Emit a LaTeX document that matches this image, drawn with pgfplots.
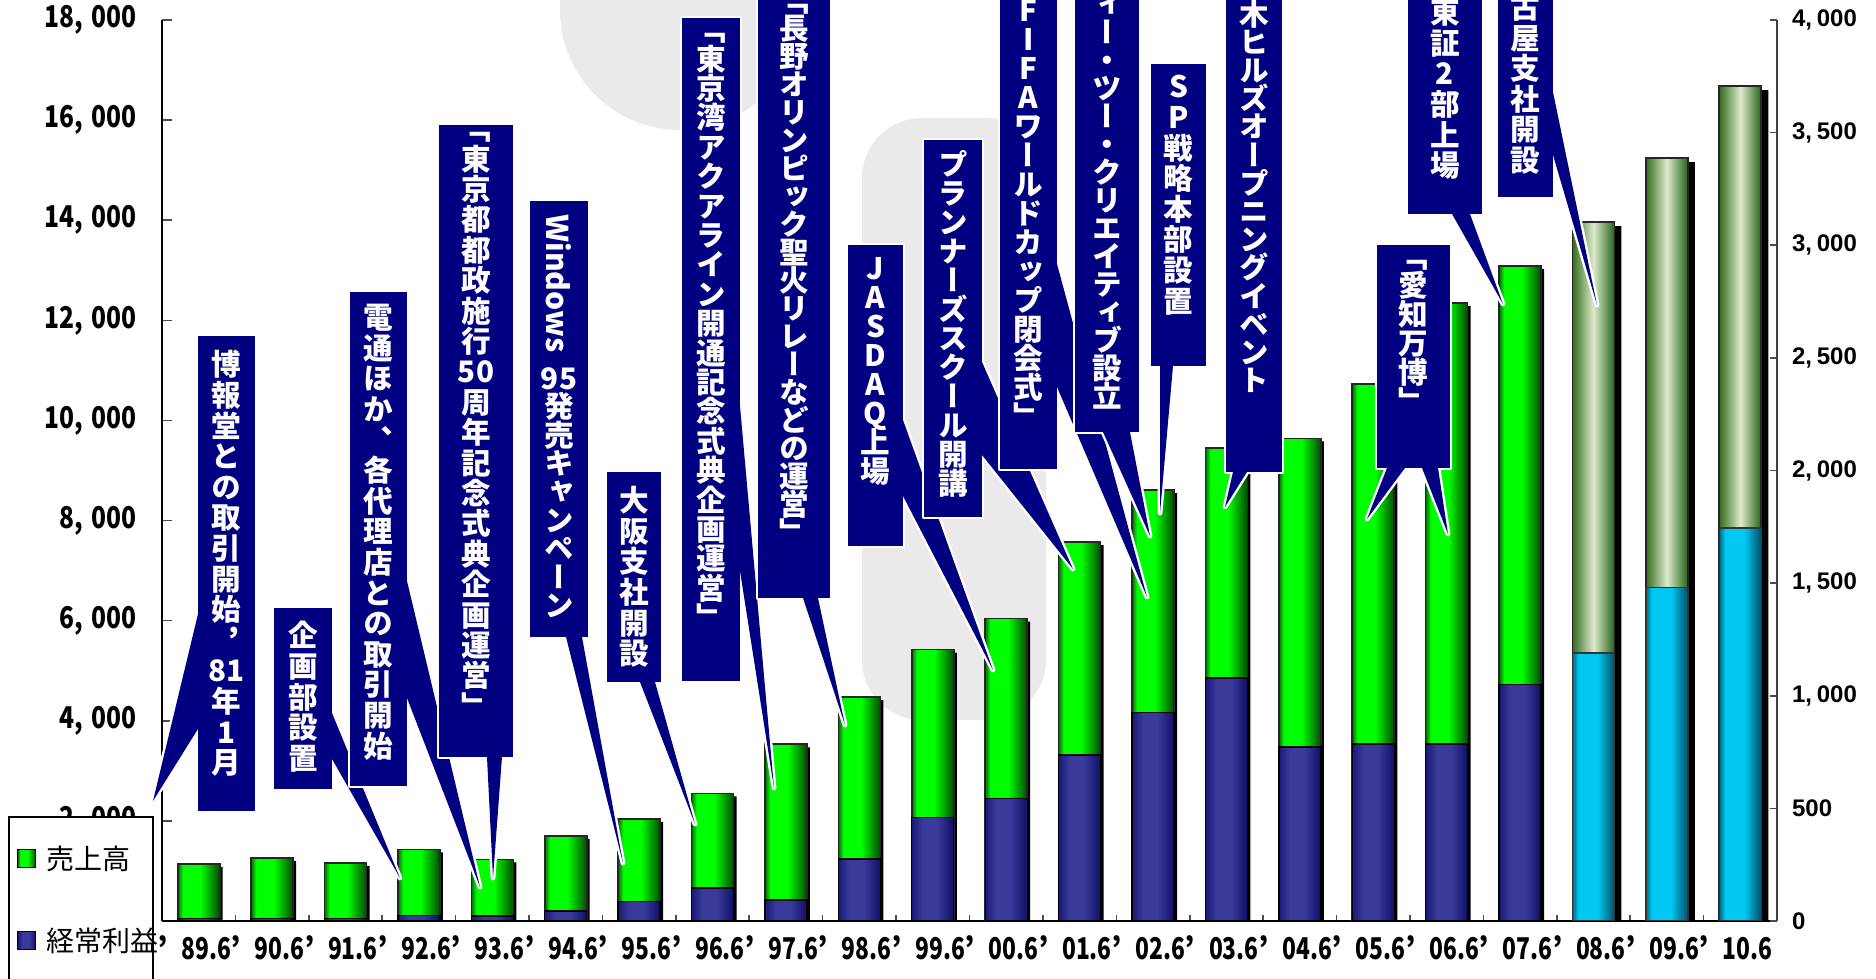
\documentclass[border=0pt]{standalone}
\usepackage{fontspec}
\usepackage{pgfplots}
\usepackage{pgfplotstable}
\pgfplotsset{compat=1.18}
\usepackage{graphicx}
\setmainfont{Liberation Sans}
\newfontfamily\jp{Noto Sans CJK JP}
\newfontfamily\jpv{Noto Sans CJK JP}[RawFeature=+vert]

\definecolor{callout}{RGB}{0,0,128}
\definecolor{wm}{RGB}{234,234,234}
\definecolor{gA}{RGB}{10,105,10}
\definecolor{gB}{RGB}{0,255,0}
\definecolor{gC}{RGB}{0,90,0}
\definecolor{nA}{RGB}{25,25,120}
\definecolor{nB}{RGB}{58,58,155}
\definecolor{nC}{RGB}{15,15,105}
\definecolor{cA}{RGB}{0,105,135}
\definecolor{cB}{RGB}{0,200,240}
\definecolor{cC}{RGB}{0,78,105}
\definecolor{oA}{RGB}{50,110,30}
\definecolor{oB}{RGB}{222,234,204}
\definecolor{oC}{RGB}{35,100,25}

\pgfdeclarehorizontalshading{gbar}{100bp}{color(0bp)=(gA); color(25bp)=(gA); color(31bp)=(gB); color(52bp)=(gB); color(73bp)=(gC); color(100bp)=(gC)}
\pgfdeclarehorizontalshading{nbar}{100bp}{color(0bp)=(nA); color(25bp)=(nA); color(38bp)=(nB); color(55bp)=(nB); color(75bp)=(nC); color(100bp)=(nC)}
\pgfdeclarehorizontalshading{cbar}{100bp}{color(0bp)=(cA); color(25bp)=(cA); color(32bp)=(cB); color(55bp)=(cB); color(75bp)=(cC); color(100bp)=(cC)}
\pgfdeclarehorizontalshading{obar}{100bp}{color(0bp)=(oA); color(25bp)=(oA); color(50bp)=(oB); color(75bp)=(oC); color(100bp)=(oC)}

% sales (left axis), ordinary profit (right axis); 19-21 are forecasts
\pgfplotstableread{
x sales profit
0  1140   10
1  1260   10
2  1160   10
3  1430   25
4  1230   22
5  1700   45
6  2040   87
7  2550  146
8  3530   93
9  4470  275
10 5420  460
11 6040  543
12 7570  737
13 8610  926
14 9450 1079
15 9640  773
16 10730 786
17 12350 786
18 13090 1050
19 13960 1190
20 15240 1480
21 16680 1745
}\data

% vertical text: one cell per row, fixed pitch
\ExplSyntaxOn
\tl_new:N \l_vt_tl
\NewDocumentCommand\vt{mm}{
  \tl_clear:N \l_vt_tl
  \tl_map_inline:nn {#2} { \tl_put_right:Nn \l_vt_tl {##1\cr} }
  \vbox{\baselineskip=#1\relax\lineskiplimit=-\maxdimen\lineskip=0pt
    \halign{\hfil##\hfil\cr\l_vt_tl}}
}
\ExplSyntaxOff

% #1 box, #2 wedge, #3 text top, #4 pitch, #5 text
\newcommand\callout[5]{%
  \draw[white, line width=2.4pt, line join=round] #1;
  \draw[white, line width=2.4pt, line join=round] #2;
  \fill[callout] #1;
  \fill[callout] #2;
  \node[anchor=north, inner sep=0pt, text=white,
        font=\jpv\bfseries\fontsize{14.8}{14.8}\selectfont] at #3 {\vt{#4}{#5}};
}
\newcommand\xl[1]{\textquoteright\hspace{0.45em}\scalebox{0.76}[1]{#1}}
\newcommand\yl[2]{\scalebox{0.82}[1]{#1,\hspace{0.35em}#2}}
\newcommand\rl[2]{#1,\hspace{0.2em}#2}

\begin{document}
\begin{tikzpicture}
\path[use as bounding box] (-81pt,-29pt) rectangle (857pt,460.5pt);
\clip (-81pt,-29pt) rectangle (857pt,460.5pt);

% watermark
\begin{scope}[shift={(-81pt,460.5pt)}, x=0.5pt, y=-0.5pt]
  \fill[wm] (680,10) circle (120);
  \fill[wm, rounded corners=30pt] (862,118) rectangle (1046,720);
\end{scope}

\begin{axis}[
  scale only axis, width=807.5pt, height=450.5pt,
  xmin=-0.5, xmax=21.5, ymin=0, ymax=18000,
  axis x line*=bottom, axis y line*=left,
  axis line style={-, black, line width=0.8pt},
  ybar, bar width=21pt,
  xtick={0,...,21},
  xticklabels={\xl{89.6},\xl{90.6},\xl{91.6},\xl{92.6},\xl{93.6},\xl{94.6},\xl{95.6},\xl{96.6},\xl{97.6},\xl{98.6},\xl{99.6},\xl{00.6},\xl{01.6},\xl{02.6},\xl{03.6},\xl{04.6},\xl{05.6},\xl{06.6},\xl{07.6},\xl{08.6},\xl{09.6},\xl{10.6}},
  minor xtick={0.5,1.5,...,20.5},
  major x tick style={draw=none},
  minor x tick style={draw=black!70, line width=0.8pt},
  minor tick length=3pt,
  ytick={0,2000,...,18000},
  yticklabels={0,\yl{2}{000},\yl{4}{000},\yl{6}{000},\yl{8}{000},\yl{10}{000},\yl{12}{000},\yl{14}{000},\yl{16}{000},\yl{18}{000}},
  major tick length=5pt,
  tick align=inside,
  y tick style={draw=black!70, line width=0.8pt},
  xticklabel style={font=\jp\bfseries\fontsize{15}{15}\selectfont, yshift=-4pt, xshift=-2.3pt},
  yticklabel style={font=\jp\bfseries\fontsize{15}{15}\selectfont, xshift=-9pt},
]
% shadows
\addplot[fill=black, draw=none, bar shift=1.5pt, yshift=-1.5pt, restrict x to domain=0:18]
  table[x=x, y=sales] {\data};
\addplot[fill=black, draw=none, bar shift=3.5pt, yshift=-2pt, restrict x to domain=19:21]
  table[x=x, y=sales] {\data};
% sales, one path per bar so that each bar gets its own shading
\pgfplotsinvokeforeach{0,...,18}{
  \addplot[fill=gB, shading=gbar, draw=black!85, line width=0.8pt, bar shift=0pt,
    restrict x to domain=#1:#1] table[x=x, y=sales] {\data};
}
\pgfplotsinvokeforeach{19,20,21}{
  \addplot[fill=oB, shading=obar, draw=black!85, line width=0.8pt, bar shift=0pt,
    restrict x to domain=#1:#1] table[x=x, y=sales] {\data};
}
\end{axis}

\begin{axis}[
  scale only axis, width=807.5pt, height=450.5pt,
  xmin=-0.5, xmax=21.5, ymin=0, ymax=4000,
  axis y line*=right, axis x line=none,
  axis line style={-, black!75, line width=0.8pt},
  ybar, bar width=21pt,
  ytick={0,500,...,4000},
  yticklabels={0,500,\rl{1}{000},\rl{1}{500},\rl{2}{000},\rl{2}{500},\rl{3}{000},\rl{3}{500},\rl{4}{000}},
  tick align=inside, major tick length=3.5pt,
  y tick style={draw=black!70, line width=0.8pt},
  yticklabel style={font=\bfseries\fontsize{12}{12}\selectfont, xshift=4pt},
]
\pgfplotsinvokeforeach{0,...,18}{
  \addplot[fill=nB, shading=nbar, draw=black, line width=0.7pt, bar shift=0pt,
    restrict x to domain=#1:#1] table[x=x, y=profit] {\data};
}
\pgfplotsinvokeforeach{19,20,21}{
  \addplot[fill=cB, shading=cbar, draw=black!80, line width=0.7pt, bar shift=0pt,
    restrict x to domain=#1:#1] table[x=x, y=profit] {\data};
}
\end{axis}

\begin{scope}[shift={(-81pt,460.5pt)}, x=0.5pt, y=-0.5pt]
  \callout{(198,336) rectangle (255,811)}{(198,614)--(153,801)--(198,729)--cycle}{(226.5,350)}{15.3pt}{博報堂との取引開始，{81}年1月}
  \callout{(274,608) rectangle (332,789)}{(332,713)--(400,878)--(332,759)--cycle}{(303,621)}{15.3pt}{企画部設置}
  \callout{(350,292) rectangle (407,786)}{(407,581)--(480,887)--(407,698)--cycle}{(378.5,304)}{15.3pt}{電通ほか、各代理店との取引開始}
  \callout{(439,125) rectangle (513,757)}{(487,757)--(493,878)--(502,757)--cycle}{(476,132)}{15.2pt}{「東京都都政施行{50}周年記念式典企画運営」}
  \callout{(530,201) rectangle (588,637)}{(566,637)--(623,863)--(582,637)--cycle}{(559,367)}{14.2pt}{{95}発売キャンペーン}
  \node[rotate=-90, anchor=west, inner sep=0pt, text=white, font=\jp\bfseries\fontsize{15}{15}\selectfont] at (559,214) {Windows};
  \callout{(607,472) rectangle (661,682)}{(640,682)--(695,824)--(655,682)--cycle}{(634,486)}{15.3pt}{大阪支社開設}
  \callout{(682,18) rectangle (740,681)}{(740,406)--(774,788)--(740,571)--cycle}{(711,33)}{14.7pt}{「東京湾アクアライン開通記念式典企画運営」}
  \callout{(758,-20) rectangle (830,598)}{(803,598)--(845,725)--(818,598)--cycle}{(794,4)}{14pt}{「長野オリンピック聖火リレーなどの運営」}
  \callout{(848,245) rectangle (903,546)}{(903,420)--(993,670)--(903,496)--cycle}{(875.5,257)}{14.5pt}{JASDAQ上場}
  \callout{(924,140) rectangle (982,517)}{(982,362)--(1073,569)--(982,455)--cycle}{(953,150)}{14.5pt}{プランナーズスクール開講}
  \callout{(1000,-20) rectangle (1057,469)}{(1057,264)--(1147,597)--(1057,387)--cycle}{(1028.5,-1)}{14.5pt}{FIFAワールドカップ閉会式」}
  \callout{(1075,-20) rectangle (1139,432)}{(1103,432)--(1150,536)--(1130,432)--cycle}{(1107,-36)}{14pt}{ティー・ツー・クリエイティブ設立}
  \callout{(1151,64) rectangle (1206,366)}{(1160,366)--(1160,513)--(1173,366)--cycle}{(1178.5,75)}{15.3pt}{SP戦略本部設置}
  \callout{(1226,-20) rectangle (1282,472)}{(1233,472)--(1225,507)--(1247,472)--cycle}{(1254,-57)}{14.1pt}{六本木ヒルズオープニングイベント}
  \callout{(1377,245) rectangle (1450,468)}{(1387,468)--(1367,519)--(1405,468)--cycle (1422,468)--(1448,534)--(1438,468)--cycle}{(1413.5,260)}{14.5pt}{「愛知万博」}
  \callout{(1408,-20) rectangle (1482,214)}{(1452,214)--(1503,304)--(1470,214)--cycle}{(1445,-2)}{15.3pt}{東証2部上場}
  \callout{(1498,-20) rectangle (1553,197)}{(1553,92)--(1597,305)--(1553,155)--cycle}{(1525.5,-38)}{15.3pt}{名古屋支社開設}
  % legend
  \draw[black, fill=white, line width=0.6pt] (9,817) rectangle (153,995);
  \draw[black, line width=0.5pt, shading=gbar] (18,850) rectangle (36,868);
  \draw[black, line width=0.5pt, shading=nbar] (18,932) rectangle (36,950);
  \node[anchor=west, inner sep=0pt, font=\jp\fontsize{14}{14}\selectfont] at (46,859) {売上高};
  \node[anchor=west, inner sep=0pt, font=\jp\fontsize{14}{14}\selectfont] at (46,941) {経常利益};
\end{scope}
\end{tikzpicture}
\end{document}
